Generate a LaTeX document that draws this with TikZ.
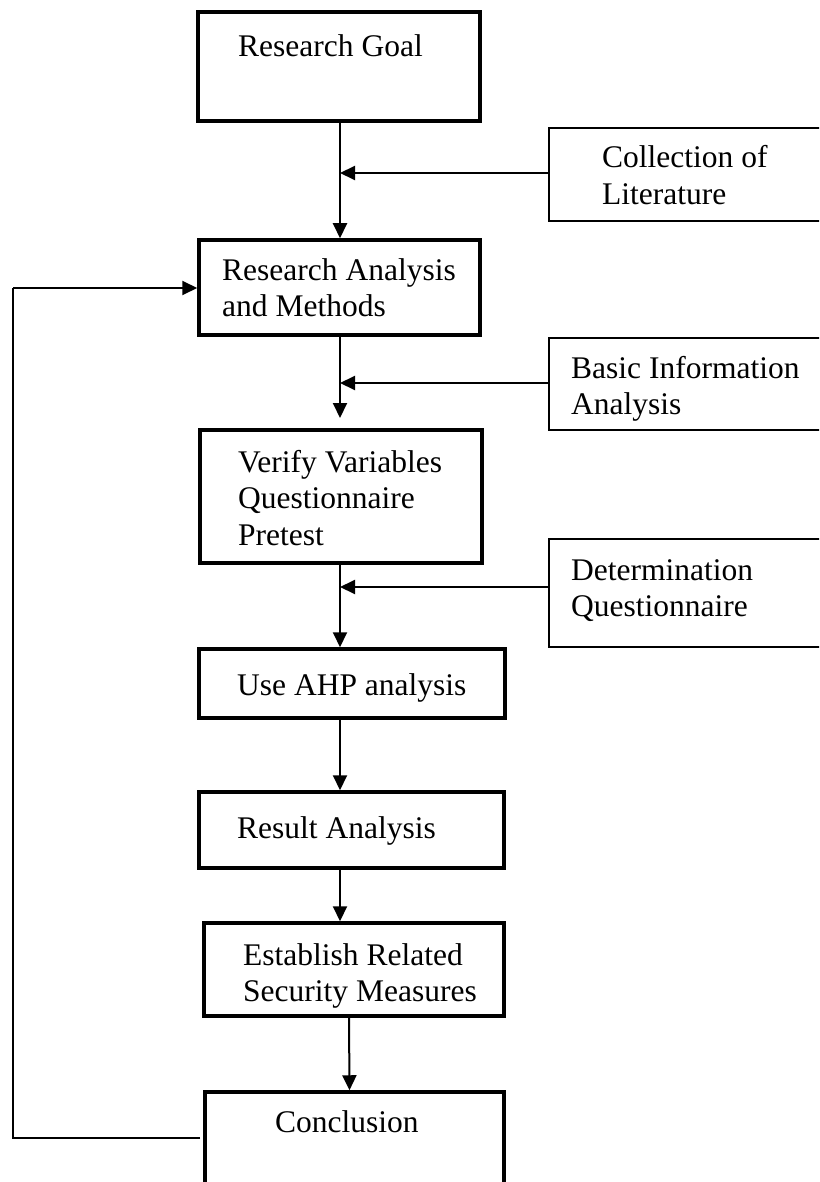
\documentclass[tikz,border=0pt]{standalone}
\usepackage{fontspec}
\setmainfont{Liberation Serif}
\usetikzlibrary{arrows.meta}
\newcommand{\mlines}[1]{\begin{tabular}[t]{@{}l@{}}#1\end{tabular}}
\tikzset{
  mainbox/.style={draw, line width=3.5pt, rectangle, inner sep=0pt},
  sidebox/.style={draw, line width=2pt, rectangle, inner sep=0pt},
  lbl/.style={anchor=base west, inner sep=0pt, font=\fontsize{31.5}{36.5}\selectfont},
  conn/.style={line width=2pt, -{Triangle[length=15pt 0 0,width=14pt 0]}},
  plain/.style={line width=2pt}
}
\begin{document}
\begin{tikzpicture}[x=1pt,y=-1pt]
\useasboundingbox (0,0) rectangle (819,1182);
\clip (0,0) rectangle (819,1182);
\fill[white] (0,0) rectangle (819,1182);
% main boxes
\node[mainbox, minimum width=282pt, minimum height=109pt] (goal) at (339,66.5) {};
\node[mainbox, minimum width=281pt, minimum height=95pt] (ram) at (339.5,287.5) {};
\node[mainbox, minimum width=282pt, minimum height=133pt] (ver) at (341,496.5) {};
\node[mainbox, minimum width=306pt, minimum height=69pt] (ahp) at (352,683.5) {};
\node[mainbox, minimum width=305pt, minimum height=76pt] (res) at (351.5,830) {};
\node[mainbox, minimum width=300pt, minimum height=93pt] (est) at (354,969.5) {};
\node[mainbox, minimum width=299pt, minimum height=120pt] (con) at (354.5,1152) {};
% side boxes
\node[sidebox, minimum width=300pt, minimum height=93pt] (lit) at (699,174.5) {};
\node[sidebox, minimum width=300pt, minimum height=92pt] (bas) at (699,384) {};
\node[sidebox, minimum width=300pt, minimum height=108pt] (det) at (699,593) {};
% texts
\node[lbl] (tgoal) at (238,57) {Research Goal};
\node[lbl] (tram) at (222,280) {\mlines{Research Analysis\\and Methods}};
\node[lbl] (tver) at (238,472) {\mlines{Verify Variables\\Questionnaire\\Pretest}};
\node[lbl] (tahp) at (237,695) {Use AHP analysis};
\node[lbl] (tres) at (237,838) {Result Analysis};
\node[lbl] (test) at (243,965) {\mlines{Establish Related\\Security Measures}};
\node[lbl] (tcon) at (275,1132) {Conclusion};
\node[lbl] (tlit) at (602,168) {\mlines{Collection of\\Literature}};
\node[lbl] (tbas) at (571,378) {\mlines{Basic Information\\Analysis}};
\node[lbl] (tdet) at (571,580) {\mlines{Determination\\Questionnaire}};
% coordinates
\coordinate (litj) at (340,173);
\coordinate (basj) at (340,383);
\coordinate (detj) at (340,587);
\coordinate (verin) at (340,418);
\coordinate (fbs) at (200,1138);
\coordinate (fbl) at (13,1138);
\coordinate (fbt) at (13,288);
% connectors
\draw[conn] (goal.south -| litj) -- (ram.north -| litj);
\draw[conn] (lit.west |- litj) -- (litj);
\draw[conn] (ram.south -| basj) -- (verin);
\draw[conn] (bas.west |- basj) -- (basj);
\draw[conn] (ver.south -| detj) -- (ahp.north -| detj);
\draw[conn] (det.west |- detj) -- (detj);
\draw[conn] (ahp.south -| detj) -- (res.north -| detj);
\draw[conn] (res.south -| detj) -- (est.north -| detj);
\draw[conn] ([xshift=-5pt]est.south) -- ([xshift=-5pt]con.north);
\draw[plain] (fbs) -- (fbl) -- (fbt);
\draw[conn] (fbt) -- (ram.west |- fbt);
\end{tikzpicture}
\end{document}
